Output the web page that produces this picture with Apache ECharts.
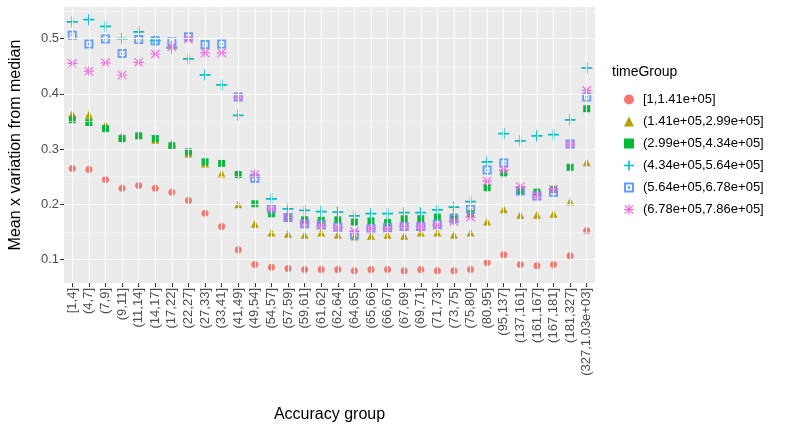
<!DOCTYPE html>
<html>
<head>
<meta charset="utf-8">
<script src="https://cdn.jsdelivr.net/npm/echarts@6/dist/echarts.min.js"></script>
<style>html,body{margin:0;padding:0;background:#fff}#c{width:799px;height:428px}</style>
</head>
<body>
<div id="c"></div>
<script>
// 数据
const categories = ['[1,4]','(4,7]','(7,9]','(9,11]','(11,14]','(14,17]','(17,22]','(22,27]','(27,33]','(33,41]',
  '(41,49]','(49,54]','(54,57]','(57,59]','(59,61]','(61,62]','(62,64]','(64,65]','(65,66]','(66,67]',
  '(67,69]','(69,71]','(71,73]','(73,75]','(75,80]','(80,95]','(95,137]','(137,161]','(161,167]','(167,181]',
  '(181,327]','(327,1.03e+03]'];
const groupNames = ['[1,1.41e+05]','(1.41e+05,2.99e+05]','(2.99e+05,4.34e+05]','(4.34e+05,5.64e+05]','(5.64e+05,6.78e+05]','(6.78e+05,7.86e+05]'];
const g1 = [0.265,0.263,0.245,0.229,0.234,0.229,0.222,0.207,0.184,0.160,0.118,0.091,0.086,0.084,0.082,0.082,
  0.082,0.080,0.082,0.082,0.080,0.082,0.080,0.080,0.082,0.095,0.109,0.091,0.089,0.091,0.107,0.152];
const g2 = [0.364,0.362,0.344,0.324,0.326,0.317,0.310,0.292,0.274,0.256,0.200,0.165,0.149,0.147,0.145,0.149,
  0.145,0.142,0.143,0.145,0.143,0.149,0.149,0.145,0.149,0.169,0.191,0.181,0.181,0.183,0.205,0.276];
const g3 = [0.353,0.348,0.337,0.319,0.324,0.319,0.306,0.295,0.277,0.274,0.254,0.201,0.183,0.176,0.172,0.171,
  0.172,0.168,0.170,0.167,0.174,0.174,0.177,0.177,0.183,0.230,0.256,0.225,0.222,0.227,0.267,0.373];
const g4 = [0.530,0.534,0.522,0.500,0.512,0.496,0.483,0.463,0.434,0.416,0.361,0.250,0.210,0.192,0.189,0.187,
  0.186,0.179,0.183,0.183,0.185,0.185,0.190,0.195,0.205,0.277,0.328,0.315,0.324,0.326,0.353,0.447];
const g5 = [0.506,0.490,0.499,0.473,0.498,0.496,0.494,0.503,0.489,0.490,0.394,0.247,0.192,0.176,0.165,0.163,
  0.159,0.145,0.156,0.158,0.160,0.160,0.164,0.174,0.191,0.262,0.275,0.224,0.215,0.222,0.309,0.394];
const g6 = [0.455,0.441,0.456,0.434,0.457,0.472,0.485,0.499,0.474,0.474,0.394,0.254,0.192,0.176,0.165,0.162,
  0.158,0.151,0.156,0.156,0.160,0.160,0.162,0.169,0.177,0.242,0.262,0.232,0.216,0.227,0.309,0.406];
const yTicks = [0.1,0.2,0.3,0.4,0.5];
const yMinor = [0.15,0.25,0.35,0.45,0.55];

const colors = ['#F8766D','#B79F00','#00BA38','#00BFC4','#619CFF','#F564E3'];
const symbols = [
  'circle',
  'triangle',
  'rect',
  'path://M4.2,0H5.8V10H4.2Z M0,4.2H10V5.8H0Z',
  'path://M0,0H10V10H0Z M2,2V8H8V2Z M3.8,3.8H6.2V6.2H3.8Z',
  'path://M4.4,0H5.6V10H4.4Z M0,4.4H10V5.6H0Z M1.2,0.4L9.6,8.8L8.8,9.6L0.4,1.2Z M8.8,0.4L9.6,1.2L1.2,9.6L0.4,8.8Z'
];
const sizes = [7, 8, 7, 11, 9, 10];
const allData = [g1, g2, g3, g4, g5, g6];

const myChart = echarts.init(document.getElementById('c'));

// 背景网格线（放在散点下层）
const gridSeries = {
  type: 'line', data: [], silent: true, z: 1,
  markLine: {
    silent: true, symbol: 'none', animation: false, label: { show: false },
    data: [
      ...yTicks.map(v => ({ yAxis: v, lineStyle: { color: '#fff', width: 1.1, type: 'solid' } })),
      ...yMinor.map(v => ({ yAxis: v, lineStyle: { color: '#fff', width: 0.5, type: 'solid' } })),
      ...categories.map(c => ({ xAxis: c, lineStyle: { color: '#fff', width: 1.1, type: 'solid' } }))
    ]
  }
};

const series = [gridSeries, ...allData.map((d, i) => ({
  name: groupNames[i],
  type: 'scatter',
  data: d,
  symbol: symbols[i],
  symbolSize: sizes[i],
  itemStyle: { color: colors[i], opacity: 1 },
  z: 3
}))];

const option = {
  animation: false,
  textStyle: { fontFamily: 'Arial, Liberation Sans, sans-serif' },
  grid: { left: 62, right: 204, top: 7, bottom: 145, backgroundColor: '#EBEBEB', show: true, borderWidth: 0 },
  xAxis: {
    type: 'category', data: categories, boundaryGap: true,
    name: 'Accuracy group', nameLocation: 'middle', nameGap: 124,
    nameTextStyle: { fontSize: 16, color: '#000' },
    axisLine: { show: false },
    axisTick: { show: true, alignWithLabel: true, length: 4, lineStyle: { color: '#333' } },
    axisLabel: { rotate: 90, fontSize: 13, color: '#4d4d4d', interval: 0, margin: 5 },
    splitLine: { show: false }
  },
  yAxis: {
    type: 'value', min: 0.0577, max: 0.557,
    name: 'Mean x variation from median', nameLocation: 'middle', nameGap: 40,
    nameTextStyle: { fontSize: 16, color: '#000' },
    axisLine: { show: false },
    axisTick: { show: true, length: 4, customValues: yTicks, lineStyle: { color: '#333' } },
    axisLabel: { fontSize: 13, color: '#4d4d4d', customValues: yTicks, formatter: v => v.toFixed(1), margin: 5 },
    splitLine: { show: false }
  },
  legend: {
    orient: 'vertical', left: 619, top: 88, itemGap: 9, itemWidth: 10, itemHeight: 10,
    textStyle: { fontSize: 13, color: '#000', padding: [0, 0, 0, 4] },
    data: groupNames.map((n, i) => ({ name: n, icon: symbols[i] }))
  },
  graphic: [
    { type: 'text', left: 612, top: 65, style: { text: 'timeGroup', fontSize: 14, fill: '#000' } }
  ],
  series: series
};
myChart.setOption(option);
</script>
</body>
</html>
